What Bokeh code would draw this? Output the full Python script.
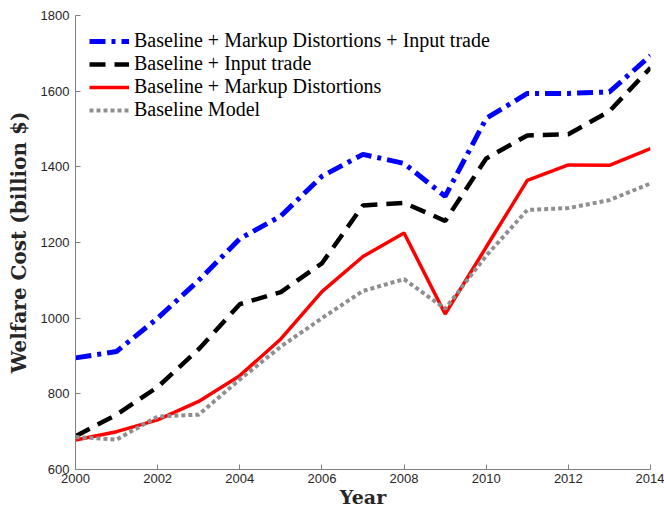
from bokeh.plotting import figure
from bokeh.models import Range1d, FixedTicker, Legend, LegendItem
from bokeh.embed import file_html
from bokeh.resources import INLINE

years = [2000, 2001, 2002, 2003, 2004, 2005, 2006, 2007, 2008, 2009, 2010, 2011, 2012, 2013, 2014]
markup_input = [895, 912, 1000, 1100, 1210, 1270, 1375, 1433, 1409, 1322, 1528, 1594, 1594, 1598, 1694]
input_trade = [688, 745, 818, 918, 1037, 1069, 1145, 1298, 1305, 1257, 1422, 1483, 1486, 1547, 1662]
markup = [678, 700, 731, 780, 848, 945, 1070, 1163, 1225, 1011, 1188, 1364, 1405, 1404, 1448]
baseline = [686, 679, 740, 745, 838, 925, 1000, 1072, 1103, 1025, 1165, 1286, 1291, 1312, 1356]
x_ticks = [2000, 2002, 2004, 2006, 2008, 2010, 2012, 2014]
y_ticks = [600, 800, 1000, 1200, 1400, 1600, 1800]

labels = ["Baseline + Markup Distortions + Input trade",
          "Baseline + Input trade",
          "Baseline + Markup Distortions",
          "Baseline Model"]

p = figure(width=664, height=512, output_backend="svg", toolbar_location=None,
           x_range=Range1d(2000, 2014), y_range=Range1d(600, 1800),
           min_border_left=75, min_border_right=14, min_border_top=15, min_border_bottom=43)
p.outline_line_color = None
p.xgrid.visible = False
p.ygrid.visible = False

r1 = p.line(years, markup_input, line_color="#0000ff", line_width=5, line_dash="16 6 4 6")
r2 = p.line(years, input_trade, line_color="#000000", line_width=4.5, line_dash="16 9")
r3 = p.line(years, markup, line_color="#ff0000", line_width=3.5)
r4 = p.line(years, baseline, line_color="#8f8f8f", line_width=4, line_dash="4 3")

for ax in (p.xaxis[0], p.yaxis[0]):
    ax.axis_line_color = "#808080"
    ax.major_tick_line_color = "#808080"
    ax.minor_tick_line_color = None
    ax.major_tick_in = 5
    ax.major_tick_out = 0
    ax.major_label_text_font = "Liberation Sans"
    ax.major_label_text_font_size = "13px"
    ax.major_label_text_color = "#262626"
    ax.axis_label_text_font = "DejaVu Serif"
    ax.axis_label_text_font_style = "bold"
    ax.axis_label_text_color = "#262626"

p.xaxis[0].ticker = FixedTicker(ticks=x_ticks)
p.yaxis[0].ticker = FixedTicker(ticks=y_ticks)
p.xaxis[0].axis_label = "Year"
p.yaxis[0].axis_label = "Welfare Cost (billion $)"
p.xaxis[0].axis_label_text_font_size = "19px"
p.yaxis[0].axis_label_text_font_size = "20px"
p.xaxis[0].major_label_standoff = 4
p.xaxis[0].axis_label_standoff = 0
p.yaxis[0].major_label_standoff = 6
p.yaxis[0].axis_label_standoff = 7

legend = Legend(items=[LegendItem(label=labels[0], renderers=[r1]),
                       LegendItem(label=labels[1], renderers=[r2]),
                       LegendItem(label=labels[2], renderers=[r3]),
                       LegendItem(label=labels[3], renderers=[r4])],
                location="top_left")
legend.border_line_color = None
legend.background_fill_alpha = 0
legend.label_text_font = "Liberation Serif"
legend.label_text_font_size = "20px"
legend.label_text_color = "#000000"
legend.glyph_width = 40
legend.glyph_height = 20
legend.label_height = 20
legend.label_standoff = 5
legend.spacing = 0
legend.margin = 14
legend.padding = 9
p.add_layout(legend)

open("out.html", "w").write(file_html(p, INLINE))
